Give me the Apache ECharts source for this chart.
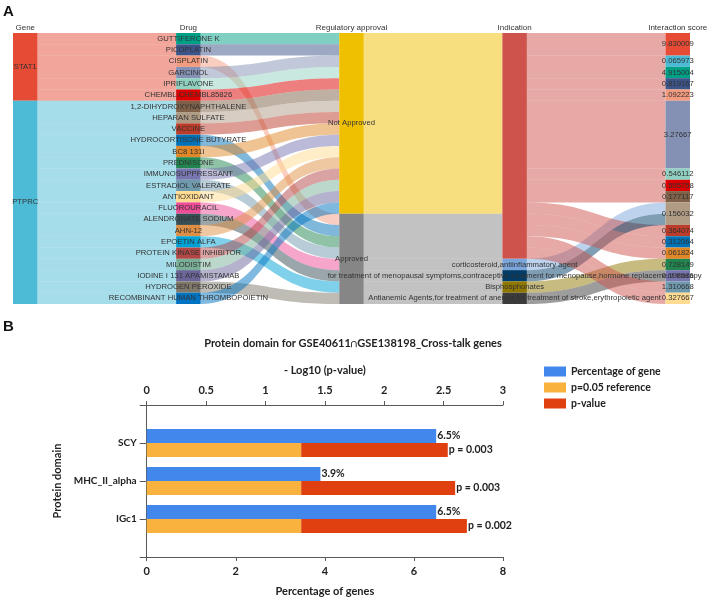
<!DOCTYPE html>
<html><head><meta charset="utf-8">
<script src="https://cdn.jsdelivr.net/npm/echarts@6/dist/echarts.min.js"></script>
<style>html,body{margin:0;padding:0;background:#fff}#c{width:708px;height:601px}</style>
</head><body><div id="c"></div>
<script>
// ---------- Panel A data: one row per gene–drug interaction ----------
const rowGenes = ['STAT1','STAT1','STAT1','STAT1','STAT1','STAT1',
  'PTPRC','PTPRC','PTPRC','PTPRC','PTPRC','PTPRC','PTPRC','PTPRC','PTPRC',
  'PTPRC','PTPRC','PTPRC','PTPRC','PTPRC','PTPRC','PTPRC','PTPRC','PTPRC'];
const rowDrugs = ['GUTTIFERONE K','PICOPLATIN','CISPLATIN','GARCINOL','IPRIFLAVONE','CHEMBL:CHEMBL85826',
  '1,2-DIHYDROXYNAPHTHALENE','HEPARAN SULFATE','VACCINE','HYDROCORTISONE BUTYRATE','BC8 131I','PREDNISONE',
  'IMMUNOSUPPRESSANT','ESTRADIOL VALERATE','ANTIOXIDANT','FLUOROURACIL','ALENDRONATE SODIUM','AHN-12',
  'EPOETIN ALFA','PROTEIN KINASE INHIBITOR','MILODISTIM','IODINE I 131 APAMISTAMAB','HYDROGEN PEROXIDE',
  'RECOMBINANT HUMAN THROMBOPOIETIN'];
const IND_NA = 'NA';
const IND_CORT = 'corticosteroid,antiinflammatory agent';
const IND_MENO = 'for treatment of menopausal symptoms,contraceptive,treatment for menopause,hormone replacement therapy';
const IND_BIS = 'Bisphosphonates';
const IND_ANEM = 'Antianemic Agents,for treatment of anemia,for treatment of stroke,erythropoietic agent';
const NA_ = 'Not Approved', AP_ = 'Approved';
const rowApprovals = [NA_,NA_,AP_,NA_,NA_,NA_,
  NA_,NA_,NA_,AP_,NA_,AP_,NA_,AP_,NA_,AP_,AP_,NA_,AP_,NA_,NA_,NA_,AP_,NA_];
const rowIndications = [IND_NA,IND_NA,IND_NA,IND_NA,IND_NA,IND_NA,
  IND_NA,IND_NA,IND_NA,IND_NA,IND_NA,IND_CORT,IND_NA,IND_MENO,IND_NA,IND_NA,IND_BIS,IND_NA,
  IND_ANEM,IND_NA,IND_NA,IND_NA,IND_NA,IND_NA];
const rowScores = ['9.830009','0.065973','4.915004','9.830009','0.819167','1.092223',
  '3.27667','0.546112','3.27667','0.595758','0.177117','0.156032','0.364074','0.156032','0.312064',
  '0.061824','0.728149','3.27667','0.198586','3.27667','3.27667','3.27667','1.310668','0.327667'];

// stratum order on each axis
const geneLevels = ['STAT1','PTPRC'];
const drugLevels = rowDrugs.slice();
const approvalLevels = [NA_, AP_];
const indicationLevels = [IND_NA, IND_CORT, IND_MENO, IND_BIS, IND_ANEM];
const scoreLevels = ['9.830009','0.065973','4.915004','0.819167','1.092223','3.27667','0.546112',
  '0.595758','0.177117','0.156032','0.364074','0.312064','0.061824','0.728149','0.198586','1.310668','0.327667'];
const axisTitles = ['Gene','Drug','Regulatory approval','Indication','Interaction score'];

// stratum colours
const geneColors = ['#E64B35','#4DBBD5'];
const drugColors = ['#00A087','#3C5488','#F39B7F','#8491B4','#91D1C2','#DC0000','#7E6148','#B09C85',
  '#BC3C29','#0072B5','#E18727','#20854E','#7876B1','#6F99AD','#FFDC91','#EE4C97',
  '#374E55','#DF8F44','#00A1D5','#B24745','#79AF97','#6A6599','#80796B','#0073C2'];
const approvalColors = ['#EFC000','#868686'];
const indicationColors = ['#CD534C','#7AA6DC','#003C67','#8F7700','#3B3B3B'];
const scoreColors = ['#E64B35','#4DBBD5','#00A087','#3C5488','#F39B7F','#8491B4','#91D1C2','#DC0000',
  '#7E6148','#B09C85','#BC3C29','#0072B5','#E18727','#20854E','#7876B1','#6F99AD','#FFDC91'];

// ---------- Panel B data ----------
const domains = ['SCY','MHC_II_alpha','IGc1'];
const pctGenes = [6.5, 3.9, 6.5];
const negLog10P = [2.535, 2.597, 2.696];
const refNegLog10 = 1.301;
const pLabels = ['0.003','0.003','0.002'];

// ---------- build sankey ----------
const levels = [geneLevels, drugLevels, approvalLevels, indicationLevels, scoreLevels];
const colors = [geneColors, drugColors, approvalColors, indicationColors, scoreColors];
const nodes = [];
levels.forEach((lv, d) => lv.forEach((n, i) => {
  const nd = {name: n, depth: d, itemStyle: {color: colors[d][i]}};
  if (n === IND_NA) nd.label = {show: false};
  nodes.push(nd);
}));
const cols = [rowGenes, rowDrugs, rowApprovals, rowIndications, rowScores];
const linkMap = new Map();
for (let c = 0; c < 4; c++) {
  for (let r = 0; r < rowDrugs.length; r++) {
    const k = cols[c][r] + '\u0001' + cols[c + 1][r];
    linkMap.set(k, (linkMap.get(k) || 0) + 1);
  }
}
const links = [];
linkMap.forEach((v, k) => { const [s, t] = k.split('\u0001'); links.push({source: s, target: t, value: v}); });

const sLeft = 13, sRight = 18, sTop = 33, sBottom = 297, nodeW = 24.5, W = 708;
const colStep = (W - sLeft - sRight - nodeW) / 4;
const headerGraphics = axisTitles.map((t, i) => ({
  type: 'text', x: sLeft + nodeW / 2 + i * colStep, y: 28,
  style: {text: t, fontSize: 8, fontFamily: 'Liberation Sans', fill: '#333', align: 'center', verticalAlign: 'middle'}
}));

const pad = a => ['-'].concat(a, ['-']);
const chart = echarts.init(document.getElementById('c'), null, {renderer: 'canvas'});
chart.setOption({
  animation: false,
  graphic: headerGraphics.concat([
    {type: 'text', x: 3, y: 12, style: {text: 'A', fontSize: 15, fontWeight: 'bold', fontFamily: 'Liberation Sans', fill: '#111', verticalAlign: 'middle'}},
    {type: 'text', x: 3, y: 327, style: {text: 'B', fontSize: 15, fontWeight: 'bold', fontFamily: 'Liberation Sans', fill: '#111', verticalAlign: 'middle'}},
    {type: 'text', x: 353, y: 343, style: {text: 'Protein domain for GSE40611\u2229GSE138198_Cross-talk genes', fontSize: 11, fontWeight: 'bold', fontFamily: 'Lato', fill: '#222', align: 'center', verticalAlign: 'middle'}}
  ]),
  legend: {
    data: ['Percentage of gene', 'p=0.05 reference', 'p-value'],
    orient: 'vertical', left: 539, top: 361, itemWidth: 22, itemHeight: 10, itemGap: 5,
    icon: 'rect', selectedMode: false,
    textStyle: {fontFamily: 'Lato', fontWeight: 'bold', fontSize: 10.5, color: '#222'}
  },
  grid: {left: 146.7, right: 205, top: 405, bottom: 44},
  xAxis: [
    {type: 'value', position: 'bottom', min: 0, max: 8, interval: 2,
     name: 'Percentage of genes', nameLocation: 'middle', nameGap: 29,
     nameTextStyle: {fontFamily: 'Lato', fontWeight: 'bold', fontSize: 11, color: '#222'},
     axisLine: {show: true, lineStyle: {color: '#595959'}}, axisTick: {show: true, length: 4, lineStyle: {color: '#595959'}},
     axisLabel: {margin: 9, fontFamily: 'Lato', fontWeight: 'bold', fontSize: 11, color: '#222'},
     splitLine: {show: false}},
    {type: 'value', position: 'top', min: 0, max: 3, interval: 0.5,
     name: '- Log10 (p-value)', nameLocation: 'middle', nameGap: 29,
     nameTextStyle: {fontFamily: 'Lato', fontWeight: 'bold', fontSize: 11, color: '#222'},
     axisLine: {show: true, lineStyle: {color: '#595959'}}, axisTick: {show: true, length: 4, lineStyle: {color: '#595959'}},
     axisLabel: {margin: 9, fontFamily: 'Lato', fontWeight: 'bold', fontSize: 11, color: '#222'},
     splitLine: {show: false}}
  ],
  yAxis: {type: 'category', data: pad(domains).map(d => d === '-' ? '' : d), inverse: true, boundaryGap: false,
    name: 'Protein domain', nameLocation: 'middle', nameGap: 75, nameRotate: 90,
    nameTextStyle: {fontFamily: 'Lato', fontWeight: 'bold', fontSize: 11, color: '#222'},
    axisLine: {show: true, lineStyle: {color: '#595959'}},
    axisTick: {show: true, length: 7, lineStyle: {color: '#595959'}},
    axisLabel: {margin: 10, fontFamily: 'Lato', fontWeight: 'bold', fontSize: 10, color: '#222'},
    splitLine: {show: false}},
  series: [
    {type: 'sankey', left: sLeft, right: sRight, top: sTop, bottom: sBottom,
     nodeWidth: nodeW, nodeGap: 0, layoutIterations: 0, draggable: false,
     emphasis: {disabled: true},
     data: nodes, links: links,
     label: {position: 'inside', fontSize: 7.7, fontFamily: 'Liberation Sans', color: '#333'},
     itemStyle: {borderWidth: 0},
     lineStyle: {color: 'source', opacity: 0.5, curveness: 0.5}},
    {name: 'Percentage of gene', type: 'bar', xAxisIndex: 0, yAxisIndex: 0, data: pad(pctGenes),
     barWidth: 14, barGap: '0%', itemStyle: {color: '#4287EC'},
     label: {show: true, position: 'right', distance: 1, formatter: p => p.value + '%',
       fontFamily: 'Lato', fontWeight: 'bold', fontSize: 10.5, color: '#222'}},
    {name: 'p=0.05 reference', type: 'bar', xAxisIndex: 1, yAxisIndex: 0, stack: 'p',
     data: pad(domains.map(() => refNegLog10)), barWidth: 14, barGap: '0%', itemStyle: {color: '#FAB23E'}},
    {name: 'p-value', type: 'bar', xAxisIndex: 1, yAxisIndex: 0, stack: 'p',
     data: pad(negLog10P.map(v => +(v - refNegLog10).toFixed(3))), barWidth: 14, barGap: '0%', itemStyle: {color: '#E04010'},
     label: {show: true, position: 'right', distance: 1, formatter: p => 'p = ' + pLabels[p.dataIndex - 1],
       fontFamily: 'Lato', fontWeight: 'bold', fontSize: 10.5, color: '#222'}}
  ]
});
</script></body></html>
